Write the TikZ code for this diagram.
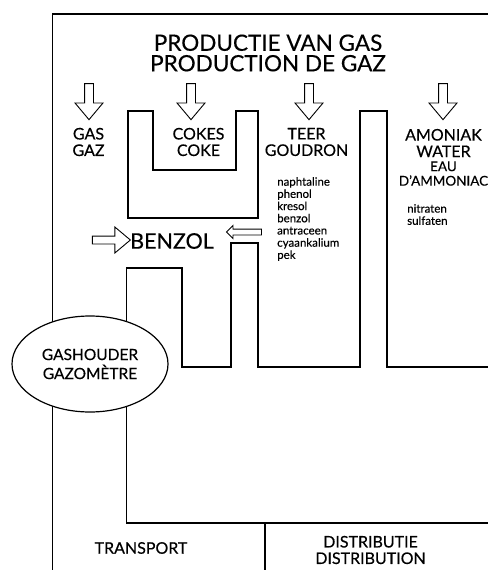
\documentclass[tikz,border=0pt]{standalone}
\usepackage{fontspec}
\setmainfont{Lato}[FakeBold=0.35]
\usetikzlibrary{shapes.geometric,shapes.arrows,positioning}

\begin{document}
\begin{tikzpicture}[x=1pt,y=-1pt,
    pipe/.style={line width=1.2pt,line join=miter},
    downarr/.style={single arrow,draw,line width=0.9pt,shape border rotate=270,
      minimum height=36pt,minimum width=27pt,single arrow head extend=9.5pt,
      single arrow tip angle=80,inner sep=4pt},
    lbl/.style={font=\fontsize{16}{16.5}\selectfont,align=center,inner sep=0pt},
    sublbl/.style={font=\fontsize{13.5}{14.5}\selectfont,align=center,inner sep=0pt},
    small/.style={font=\fontsize{11.5}{12.2}\selectfont,align=left,inner sep=0pt,anchor=north west}
  ]
  \useasboundingbox (0,0) rectangle (488,570);

  % gas holder
  \node[draw,ellipse,pipe,minimum width=156pt,minimum height=96pt,inner sep=0pt,outer sep=0pt,
    font=\fontsize{15.5}{19}\selectfont,align=center] (houder) at (90,364) {GASHOUDER\\GAZOMÈTRE};

  % frame and pipes
  \coordinate (topright) at (488,14);
  \coordinate (bottom) at (0,570);
  \coordinate (distr) at (488,523);
  \draw[pipe] (houder.132) |- (topright);
  \draw[pipe] (houder.228) -- (houder.228 |- bottom);
  \draw[pipe] (houder.311) |- (distr);
  \draw[pipe] (houder.49) |- (182,268) -- (182,367) -- (231,367) -- (231,243) -- (258,243)
    -- (258,367) -- (360,367) -- (360,111) -- (387,111) -- (387,367) -- (488,367);
  \draw[pipe] (128,218) -- (128,111) -- (153,111) -- (153,170) -- (236,170) -- (236,111)
    -- (258,111) -- (258,218) -- cycle;
  \coordinate (split) at (265,523);
  \draw[pipe] (split) -- (split |- bottom);

  % title
  \node[font=\fontsize{22.5}{20.5}\selectfont,align=center,inner sep=0pt] (title) at (268,53)
    {PRODUCTIE VAN GAS\\PRODUCTION DE GAZ};

  % products
  \node[downarr] (agas) at (89,99) {};
  \node[downarr] (acoke) at (191,99) {};
  \node[downarr] (ateer) at (309,99) {};
  \node[downarr] (aamon) at (443,99) {};
  \node[lbl] (gas) at (88.5,142) {GAS\\GAZ};
  \node[lbl] (coke) at (198.5,142) {COKES\\COKE};
  \node[lbl] (teer) at (306.5,142) {TEER\\GOUDRON};
  \node[lbl] (amon) at (443.5,143) {AMONIAK\\WATER};
  \node[sublbl,below=4pt of amon] (eau) {EAU\\D'AMMONIAC};
  \node[small] (teerlist) at (277,177)
    {naphtaline\\phenol\\kresol\\benzol\\antraceen\\cyaankalium\\pek};
  \node[small] (amonlist) at (407,204) {nitraten\\sulfaten};

  % benzol
  \node[single arrow,draw,line width=0.9pt,minimum height=38pt,minimum width=25pt,
    single arrow head extend=9pt,single arrow tip angle=80,inner sep=3.5pt] (abenzol) at (109,240) {};
  \node[font=\fontsize{21.5}{21}\selectfont,inner sep=0pt,anchor=west] (benzol) at (130,241) {BENZOL};
  \node[single arrow,draw,line width=0.9pt,shape border rotate=180,minimum height=35pt,
    minimum width=12pt,single arrow head extend=3.5pt,single arrow tip angle=90,inner sep=2.5pt]
    (aback) at (245.5,232) {};

  % transport
  \node[lbl] (transport) at (141,548) {TRANSPORT};
  \node[lbl] (distribution) at (370.5,550) {DISTRIBUTIE\\DISTRIBUTION};
\end{tikzpicture}
\end{document}
